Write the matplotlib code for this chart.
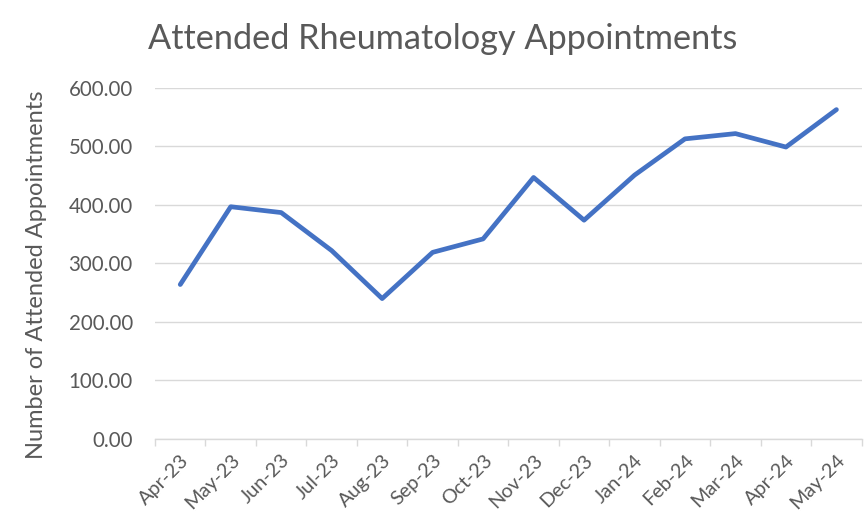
import matplotlib
matplotlib.use("Agg")
import matplotlib.pyplot as plt
import numpy as np

months = ["Apr-23", "May-23", "Jun-23", "Jul-23", "Aug-23", "Sep-23", "Oct-23",
          "Nov-23", "Dec-23", "Jan-24", "Feb-24", "Mar-24", "Apr-24", "May-24"]
attended = [264, 397, 387, 322, 240, 319, 342, 447, 374, 451, 513, 522, 499, 563]
y_ticks = [0, 100, 200, 300, 400, 500, 600]

plt.rcParams['font.family'] = ['Lato', 'DejaVu Sans']
grey = "#595959"

fig = plt.figure(figsize=(8.66, 5.15), dpi=100)
ax = fig.add_axes([0.179, 0.1476, 0.816, 0.6816])

x = np.arange(len(months))
ax.plot(x, attended, color="#4472C4", linewidth=3.4, solid_capstyle="round", solid_joinstyle="round", zorder=3)

ax.set_xlim(-0.5, len(months) - 0.5)
ax.set_ylim(0, 600)
ax.set_yticks(y_ticks)
ax.set_yticklabels([f"{v:.2f}" for v in y_ticks], color=grey, fontsize=14.8)
ax.yaxis.grid(True, color="#d9d9d9", linewidth=1)
ax.set_axisbelow(True)

ax.set_xticks(x)
ax.set_xticklabels(months, rotation=45, ha="right", rotation_mode="anchor", color=grey, fontsize=14.3)
ax.set_xticks(np.arange(-0.5, len(months)), minor=True)
ax.tick_params(axis="x", which="major", length=0, pad=9)
ax.tick_params(axis="x", which="minor", length=5, color="#d9d9d9", width=1)
ax.tick_params(axis="y", length=0, pad=16)

for s in ["top", "right", "left"]:
    ax.spines[s].set_visible(False)
ax.spines["bottom"].set_color("#d9d9d9")
ax.spines["bottom"].set_linewidth(1)

ax.set_ylabel("Number of Attended Appointments", color=grey, fontsize=17)
ax.yaxis.set_label_coords(-0.153, 0.468)
fig.suptitle("Attended Rheumatology Appointments", color=grey, fontsize=24.7, x=0.511, y=0.955)

fig.savefig("out.png", dpi=100)
